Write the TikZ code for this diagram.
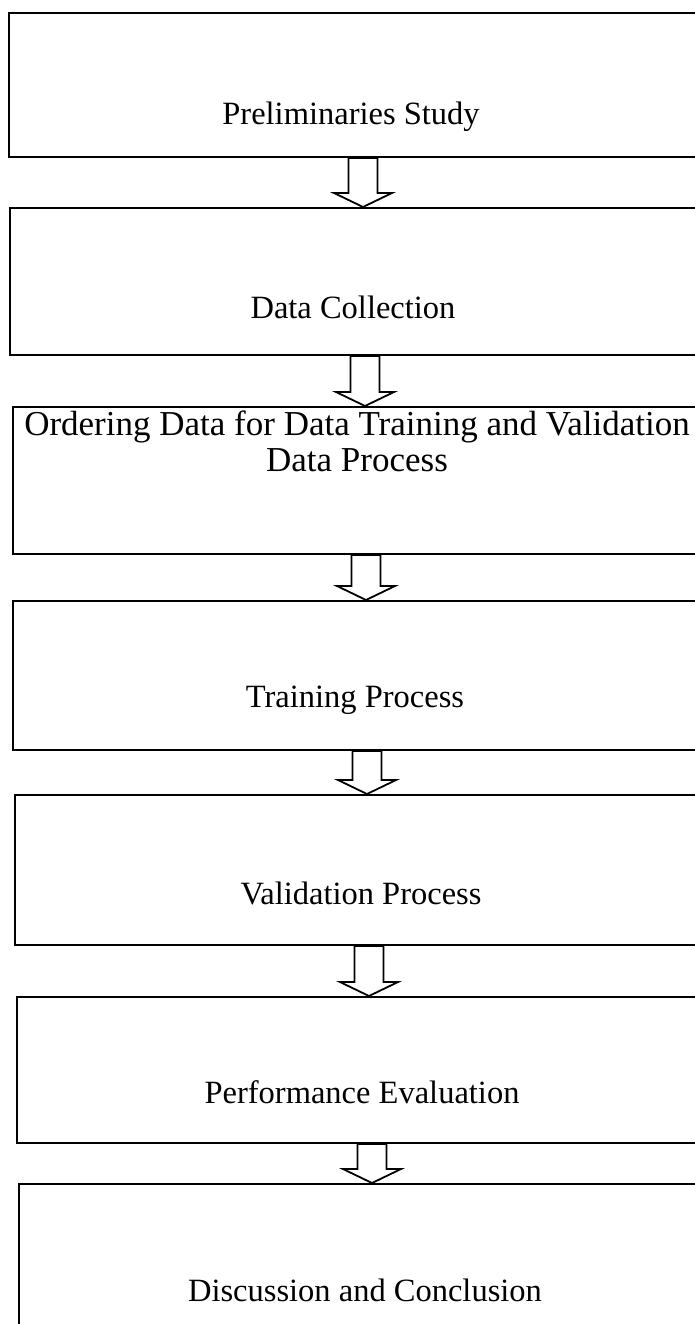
\documentclass[tikz,border=0pt]{standalone}
\usepackage{fontspec}
\setmainfont{Liberation Serif}
\usetikzlibrary{calc}
\tikzset{
  box/.style={draw=black, line width=2pt, fill=white, rectangle, inner sep=0pt,
    anchor=north west, minimum width=700pt},
  lbl/.style={font=\fontsize{32.5}{38}\selectfont, inner sep=0pt, align=center},
  biglbl/.style={font=\fontsize{35}{36}\selectfont, inner sep=0pt, align=center},
  arrowline/.style={draw=black, fill=white, line width=1.8pt, line join=miter},
}
\newcommand\blkarrow[3]{%
  \path[arrowline] let \p1=(#1.south), \p2=(#2.north) in
    (#3pt-14.5pt,\y1) -- (#3pt-14.5pt,\y2+14pt) -- (#3pt-29pt,\y2+14pt)
    -- (#3pt,\y2) -- (#3pt+29pt,\y2+14pt) -- (#3pt+14.5pt,\y2+14pt)
    -- (#3pt+14.5pt,\y1) -- cycle;}
\begin{document}
\begin{tikzpicture}[x=1pt,y=-1pt]
\useasboundingbox (0,0) rectangle (695,1324);
\clip (0,0) rectangle (695,1324);
\fill[white] (0,0) rectangle (695,1324);
\node[box, minimum height=144pt] (b1) at (8,12) {};
\node[box, minimum height=147pt] (b2) at (9,207) {};
\node[box, minimum height=147pt] (b3) at (12,406) {};
\node[box, minimum height=149pt] (b4) at (12,600) {};
\node[box, minimum height=150pt] (b5) at (14,794) {};
\node[box, minimum height=146pt] (b6) at (16,996) {};
\node[box, minimum height=200pt] (b7) at (18,1183) {};
\node[lbl] (t1) at (351,117) {Preliminaries Study};
\node[lbl] (t2) at (353,307) {Data Collection};
\node[biglbl] (t3) at (357,441) {Ordering Data for Data Training and Validation\\Data Process};
\node[lbl] (t4) at (355,700) {Training Process};
\node[lbl] (t5) at (361,893) {Validation Process};
\node[lbl] (t6) at (362,1092) {Performance Evaluation};
\node[lbl] (t7) at (365,1290) {Discussion and Conclusion};
\blkarrow{b1}{b2}{363}
\blkarrow{b2}{b3}{365}
\blkarrow{b3}{b4}{366}
\blkarrow{b4}{b5}{367}
\blkarrow{b5}{b6}{369}
\blkarrow{b6}{b7}{372}
\end{tikzpicture}
\end{document}
